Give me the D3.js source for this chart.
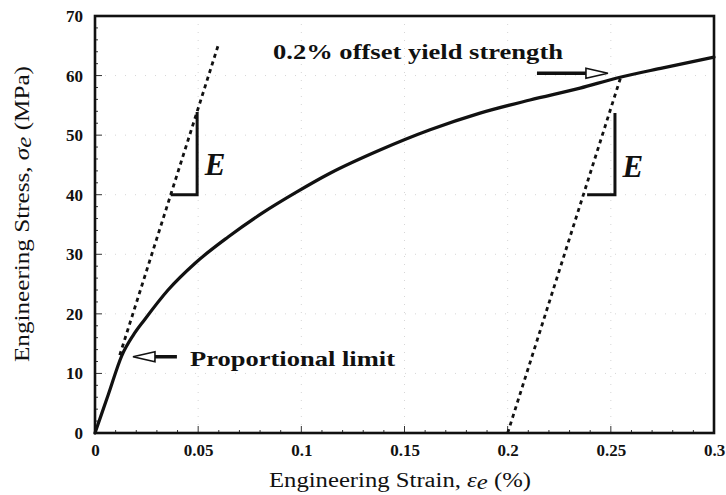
<!DOCTYPE html>
<html>
<head>
<meta charset="utf-8">
<script src="https://cdn.jsdelivr.net/npm/d3@7"></script>
<style>
  html, body { margin: 0; padding: 0; background: #fff; }
  svg { display: block; }
  text { font-family: "Liberation Serif", "Times New Roman", serif; fill: #111; }
</style>
</head>
<body>
<svg id="chart" width="726" height="495"></svg>
<script>
// ---- data ----
const strain = [0, 0.0065, 0.013, 0.0185, 0.0242, 0.0354, 0.0485, 0.0645, 0.081, 0.097, 0.1139, 0.1381, 0.1624, 0.1866, 0.2108, 0.2351, 0.253, 0.2753, 0.3];
const stress = [0, 6.5, 13, 16.4, 19.1, 24.0, 28.5, 32.9, 36.9, 40.3, 43.6, 47.5, 50.9, 53.7, 55.9, 57.9, 59.6, 61.3, 63.1];
const modulusE = 1090;             // MPa per unit strain (slope of dashed lines)
const elasticLine = [0.012, 0.0596];  // strain range of elastic dashed line (from 0)
const offsetLine = [0.2, 0.2548];     // strain range of 0.2% offset dashed line
const offset = 0.2;
const triangle1 = [[0.0367, 40], [0.0495, 40], [0.0495, 53.9]];
const triangle2 = [[0.2385, 40], [0.252, 40], [0.252, 53.7]];
const xTicks = [0, 0.05, 0.1, 0.15, 0.2, 0.25, 0.3];
const xTickLabels = ["0", "0.05", "0.1", "0.15", "0.2", "0.25", "0.3"];
const yTicks = [0, 10, 20, 30, 40, 50, 60, 70];
const yTickLabels = ["0", "10", "20", "30", "40", "50", "60", "70"];
const yieldArrow = [[0.2142, 60.4], [0.2486, 60.4]];
const propArrow = [[0.0397, 12.8], [0.0184, 12.8]];

// ---- layout ----
const svg = d3.select("#chart");
const L = 95, R = 714, T = 16, B = 433;
const x = d3.scaleLinear().domain([0, 0.3]).range([L, R]);
const y = d3.scaleLinear().domain([0, 70]).range([B, T]);

// faint grid
const g = svg.append("g");
g.selectAll("line.gx").data(xTicks.slice(1, -1)).join("line")
  .attr("x1", d => x(d)).attr("x2", d => x(d)).attr("y1", B).attr("y2", T)
  .attr("stroke", "#d6d6d6").attr("stroke-width", 1).attr("stroke-dasharray", "1,7");
g.selectAll("line.gy").data(yTicks.slice(1, -1)).join("line")
  .attr("y1", d => y(d)).attr("y2", d => y(d)).attr("x1", L).attr("x2", R)
  .attr("stroke", "#d6d6d6").attr("stroke-width", 1).attr("stroke-dasharray", "1,9");

// minor/major ticks (inside)
const xMinor = d3.range(0, 0.3001, 0.01);
svg.append("g").selectAll("line").data(xMinor).join("line")
  .attr("x1", d => x(d)).attr("x2", d => x(d))
  .attr("y1", B).attr("y2", (d, i) => B - (i % 5 === 0 ? 7 : 3))
  .attr("stroke", "#333").attr("stroke-width", 1);
const yMinor = d3.range(0, 70.01, 2);
svg.append("g").selectAll("line").data(yMinor).join("line")
  .attr("y1", d => y(d)).attr("y2", d => y(d))
  .attr("x1", L).attr("x2", d => L + (d % 10 === 0 ? 7 : 3))
  .attr("stroke", "#333").attr("stroke-width", 1);

// axes via d3 (labels only)
const xAxis = d3.axisBottom(x).tickValues(xTicks).tickFormat((d, i) => xTickLabels[i]).tickSize(0).tickPadding(11);
const yAxis = d3.axisLeft(y).tickValues(yTicks).tickFormat((d, i) => yTickLabels[i]).tickSize(0).tickPadding(12);
const gx = svg.append("g").attr("transform", `translate(0,${B})`).call(xAxis);
const gy = svg.append("g").attr("transform", `translate(${L},0)`).call(yAxis);
[gx, gy].forEach(a => {
  a.select(".domain").remove();
  a.selectAll("text").attr("font-family", "Liberation Serif, serif").attr("font-weight", "bold")
    .attr("font-size", 17).attr("fill", "#111");
});
gx.selectAll("text").attr("dy", "0.72em");

// frame
svg.append("rect").attr("x", L).attr("y", T).attr("width", R - L).attr("height", B - T)
  .attr("fill", "none").attr("stroke", "#111").attr("stroke-width", 2.6);

// main curve
const pts = strain.map((s, i) => [s, stress[i]]);
const line = d3.line().x(d => x(d[0])).y(d => y(d[1])).curve(d3.curveMonotoneX);
svg.append("path").datum(pts).attr("d", line)
  .attr("fill", "none").attr("stroke", "#111").attr("stroke-width", 3.2).attr("stroke-linecap", "round");

// dashed lines
const straight = d3.line().x(d => x(d[0])).y(d => y(d[1]));
svg.append("path").datum(elasticLine.map(s => [s, modulusE * s])).attr("d", straight)
  .attr("fill", "none").attr("stroke", "#111").attr("stroke-width", 2.8).attr("stroke-dasharray", "4,4");
svg.append("path").datum(offsetLine.map(s => [s, modulusE * (s - offset)])).attr("d", straight)
  .attr("fill", "none").attr("stroke", "#111").attr("stroke-width", 2.8).attr("stroke-dasharray", "4,4");

// triangles (E)
[triangle1, triangle2].forEach(t => {
  svg.append("path").datum(t).attr("d", straight)
    .attr("fill", "none").attr("stroke", "#111").attr("stroke-width", 3).attr("stroke-linejoin", "miter");
});
svg.append("text").attr("x", x(0.0532)).attr("y", y(43.3)).text("E")
  .attr("font-size", 31).attr("font-weight", "bold").attr("font-style", "italic");
svg.append("text").attr("x", x(0.2557)).attr("y", y(43)).text("E")
  .attr("font-size", 31).attr("font-weight", "bold").attr("font-style", "italic");

// arrows with open triangular heads
function arrow(a) {
  const [p0, p1] = a.map(d => [x(d[0]), y(d[1])]);
  const dir = Math.sign(p1[0] - p0[0]);
  const headLen = 22, headH = 5;
  const base = p1[0] - dir * headLen;
  svg.append("line").attr("x1", p0[0]).attr("y1", p0[1]).attr("x2", base).attr("y2", p1[1])
    .attr("stroke", "#111").attr("stroke-width", 3.5);
  svg.append("path")
    .attr("d", `M${base},${p1[1] - headH}L${p1[0]},${p1[1]}L${base},${p1[1] + headH}Z`)
    .attr("fill", "#fff").attr("stroke", "#111").attr("stroke-width", 1.6);
}
arrow(yieldArrow);
arrow(propArrow);

// annotation text
svg.append("text").attr("x", 273).attr("y", 59).text("0.2% offset yield strength")
  .attr("font-size", 20).attr("font-weight", "bold").attr("textLength", 290).attr("lengthAdjust", "spacingAndGlyphs");
svg.append("text").attr("x", 190).attr("y", 366).text("Proportional limit")
  .attr("font-size", 20).attr("font-weight", "bold").attr("textLength", 205).attr("lengthAdjust", "spacingAndGlyphs");

// axis titles
const xt = svg.append("text").attr("x", 400).attr("y", 487).attr("text-anchor", "middle")
  .attr("font-size", 20).attr("textLength", 262).attr("lengthAdjust", "spacingAndGlyphs");
xt.append("tspan").text("Engineering Strain, ");
xt.append("tspan").attr("font-style", "italic").text("ε");
xt.append("tspan").attr("font-style", "italic").attr("dy", 2).text("e");
xt.append("tspan").attr("dy", -2).text(" (%)");

const yt = svg.append("text").attr("transform", "translate(29,214) rotate(-90)")
  .attr("text-anchor", "middle").attr("font-size", 20).attr("textLength", 296).attr("lengthAdjust", "spacingAndGlyphs");
yt.append("tspan").text("Engineering Stress, ");
yt.append("tspan").attr("font-style", "italic").text("σ");
yt.append("tspan").attr("font-style", "italic").attr("dy", 2).text("e");
yt.append("tspan").attr("dy", -2).text("  (MPa)");
</script>
</body>
</html>
